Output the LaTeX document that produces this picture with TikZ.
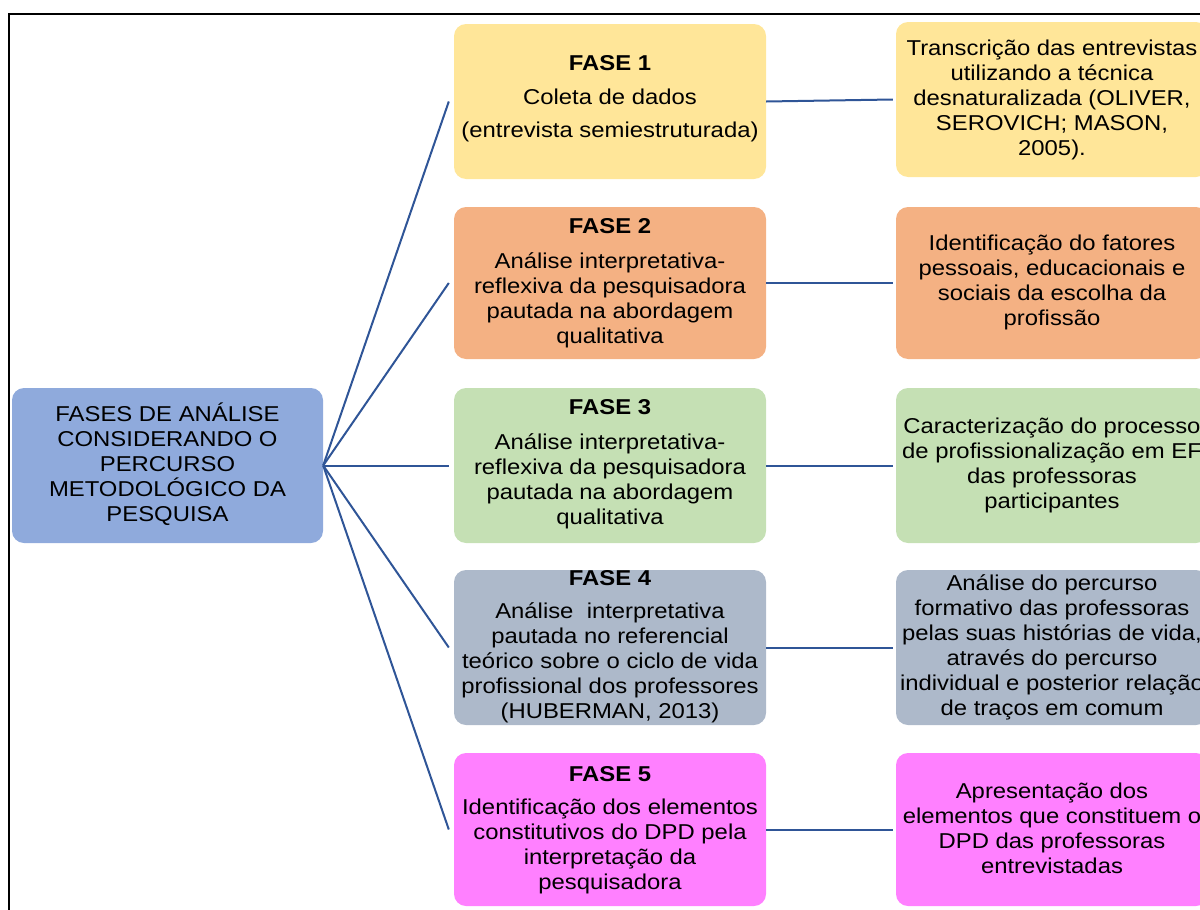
\documentclass[tikz,border=0pt]{standalone}
\usepackage{fontspec}
\setmainfont[FakeStretch=1.11]{Liberation Sans}
\definecolor{centreblue}{HTML}{8FAADC}
\definecolor{faseyellow}{HTML}{FFE699}
\definecolor{faseorange}{HTML}{F4B183}
\definecolor{fasegreen}{HTML}{C5E0B4}
\definecolor{fasegrey}{HTML}{ADB9CA}
\definecolor{fasepink}{HTML}{FF80FF}
\definecolor{linkblue}{HTML}{2F5597}
\tikzset{
  phasebox/.style={rounded corners=12pt, minimum width=312pt, minimum height=155pt, inner sep=0pt},
  phasetext/.style={align=center, inner sep=0pt, font=\fontsize{21.5}{25}\selectfont},
  link/.style={draw=linkblue, line width=2pt},
}
\begin{document}
\begin{tikzpicture}[x=1pt,y=-1pt]
                \useasboundingbox (0,0) rectangle (1200,910);
                \clip (0,0) rectangle (1200,910);
                \draw[line width=2pt] (9,14) rectangle (1230,940);
                % boxes
                \node[phasebox,fill=centreblue,minimum width=311pt] (centre) at (167.5,465.5) {};
                \node[phasebox,fill=faseyellow] (f1) at (610,101.5) {};
                \node[phasebox,fill=faseorange,minimum height=152pt] (f2) at (610,283) {};
                \node[phasebox,fill=fasegreen] (f3) at (610,465.5) {};
                \node[phasebox,fill=fasegrey] (f4) at (610,647.5) {};
                \node[phasebox,fill=fasepink,minimum height=153pt] (f5) at (610,829.5) {};
                \node[phasebox,fill=faseyellow] (r1) at (1052,99.5) {};
                \node[phasebox,fill=faseorange,minimum height=152pt] (r2) at (1052,283) {};
                \node[phasebox,fill=fasegreen] (r3) at (1052,465.5) {};
                \node[phasebox,fill=fasegrey] (r4) at (1052,647.5) {};
                \node[phasebox,fill=fasepink,minimum height=153pt] (r5) at (1052,829.5) {};
                % links
                \foreach \i in {1,...,5}{
                    \draw[link] (centre.east) -- ([xshift=-5pt]f\i.west);
                    \draw[link] (f\i.east) -- ([xshift=-3pt]r\i.west);
                }
                % texts
                \node[phasetext] (t-centre) at (167.5,464.5) {FASES DE ANÁLISE\\CONSIDERANDO O\\PERCURSO\\METODOLÓGICO DA\\PESQUISA};
                \node[phasetext] (t-f1) at (610,99) {\textbf{FASE 1}\\[9pt]Coleta de dados\\[8pt](entrevista semiestruturada)};
                \node[phasetext] (t-f2) at (610,283.5) {\textbf{FASE 2}\\[10pt]Análise interpretativa-\\reflexiva da pesquisadora\\pautada na abordagem\\qualitativa};
                \node[phasetext] (t-f3) at (610,464) {\textbf{FASE 3}\\[10pt]Análise interpretativa-\\reflexiva da pesquisadora\\pautada na abordagem\\qualitativa};
                \node[phasetext] (t-f4) at (610,646.5) {\textbf{FASE 4}\\[8pt]Análise\ \ interpretativa\\pautada no referencial\\teórico sobre o ciclo de vida\\profissional dos professores\\(HUBERMAN, 2013)};
                \node[phasetext] (t-f5) at (610,830) {\textbf{FASE 5}\\[8pt]Identificação dos elementos\\constitutivos do DPD pela\\interpretação da\\pesquisadora};
                \node[phasetext] (t-r1) at (1052,99.5) {Transcrição das entrevistas\\utilizando a técnica\\desnaturalizada (OLIVER,\\SEROVICH; MASON,\\2005).};
                \node[phasetext] (t-r2) at (1052,282.5) {Identificação do fatores\\pessoais, educacionais e\\sociais da escolha da\\profissão};
                \node[phasetext] (t-r3) at (1052,465) {Caracterização do processo\\de profissionalização em EF\\das professoras\\participantes};
                \node[phasetext] (t-r4) at (1052,647) {Análise do percurso\\formativo das professoras\\pelas suas histórias de vida,\\através do percurso\\individual e posterior relação\\de traços em comum};
                \node[phasetext] (t-r5) at (1052,828.5) {Apresentação dos\\elementos que constituem o\\DPD das professoras\\entrevistadas};
\end{tikzpicture}
\end{document}
